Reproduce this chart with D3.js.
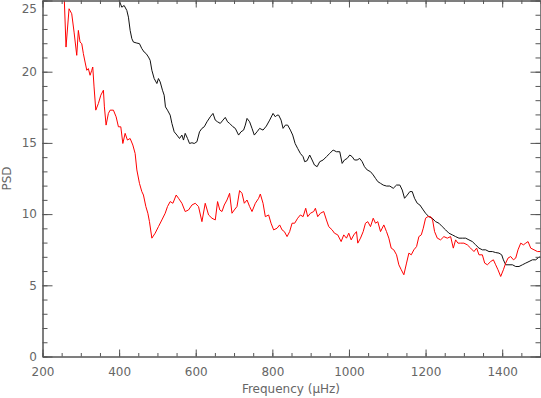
<!DOCTYPE html>
<html><head><meta charset="utf-8">
<script src="https://cdn.jsdelivr.net/npm/d3@7/dist/d3.min.js"></script>
<style>
html,body{margin:0;padding:0;background:#fff;}
svg{display:block;}
.axis text{font-family:"DejaVu Sans",sans-serif;font-size:12px;fill:#666;}
.axis line,.axis path{stroke:#555;stroke-width:1;}
</style></head><body>
<svg id="chart" width="541" height="398"></svg>
<script>
const xTickValues = [200,400,600,800,1000,1200,1400];
const yTickValues = [0,5,10,15,20,25];
const xLabel = "Frequency (\u03BCHz)";
const yLabel = "PSD";

const redFreq = [245,257,261.4,269.3,276.3,282.4,289.4,293.6,298,302.5,
306.7,311.1,315.6,319.7,324.2,328.6,331.2,334.6,339.1,345.9,
352.2,359,361.6,366,372,376.5,385.1,392.2,398.2,404.4,
409.7,415.7,421.7,428.8,435.8,441.8,446.3,453.1,459.3,463.5,
469.8,475,479.2,485.5,494.1,502.7,511.6,520.3,526.3,533.3,
540.4,549,555.1,563.9,572.5,581.2,590.1,598.7,607.3,616.2,
624.8,633.5,642.4,651,657,662.8,668.5,674.5,681.6,688.4,
694.6,700.6,707.7,714.5,720.8,726.8,733.9,740.7,746.9,755.6,
764.2,768.6,775.7,781.7,790.3,796.6,803.4,812.3,819.1,825.4,
831.4,838.4,845.2,851.5,858.3,866.1,873.2,880.3,887.1,892.3,
899.4,908,912.4,918.4,925.5,934.1,941.2,947.2,956.1,962.1,
970.7,979.6,986.4,993.5,999.5,1005.8,1012.6,1019.6,1023,1030.1,
1037.1,1043.1,1049.1,1056.2,1063.3,1069.3,1075.3,1082.4,1091,1098,
1104.1,1110.3,1117,1124.2,1130.2,1136.5,1143.3,1150.3,1156.4,1162.6,
1169.4,1176.5,1182.5,1188.8,1194,1200,1206,1213.1,1218.3,1223.5,
1230.6,1239.2,1247.8,1256.7,1265.4,1272.4,1278.4,1284.5,1291.5,1300.1,
1309,1317.6,1326.3,1333.3,1339.4,1348.2,1354.3,1361.3,1370,1377,
1383,1389,1396.1,1403.1,1409.2,1415.2,1422.2,1429.3,1435.3,1441.3,
1448.4,1455.4,1461.5,1467.5,1474.5,1483.2,1492,1502.5];

const redPsd = [26.5,25.0,21.73,24.42,24.07,22.78,21.15,22.90,22.08,21.97,
21.27,20.68,20.10,20.22,19.75,20.10,20.33,18.93,17.30,17.77,
18.35,18.70,17.53,16.25,17.07,17.30,17.30,16.83,16.13,16.13,
14.96,15.67,15.20,15.31,14.85,14.26,13.10,12.16,11.58,11.34,
10.53,10.06,9.47,8.31,8.66,9.12,9.59,10.06,10.53,10.88,
10.76,11.34,11.11,10.76,10.18,10.29,10.64,10.76,10.53,9.47,
10.76,9.94,9.71,9.59,10.88,10.29,10.18,10.64,10.99,11.46,
10.06,10.29,10.53,11.65,11.46,10.76,10.99,10.53,10.18,10.76,
11.11,11.41,10.76,9.82,9.94,9.36,8.89,9.01,9.24,8.89,
8.77,8.42,8.77,9.36,9.36,9.71,9.94,9.82,10.41,9.82,
10.06,10.18,10.41,9.82,10.06,10.18,9.59,9.12,8.89,8.66,
8.54,8.07,8.54,8.31,8.66,8.19,8.54,8.77,7.96,8.31,
8.77,9.36,9.47,9.12,9.71,9.36,9.47,8.77,9.24,8.77,
8.31,7.61,7.49,7.14,6.44,6.09,5.74,6.56,7.26,7.14,
7.49,7.72,8.42,8.54,9.01,9.71,9.82,9.82,9.59,8.77,
8.31,8.19,8.42,8.31,8.42,7.61,8.19,7.96,7.96,7.96,
7.84,7.61,7.37,7.61,7.14,7.14,6.56,6.44,6.67,6.79,
6.44,6.09,5.62,6.09,6.56,6.91,7.02,6.79,6.91,7.49,
7.96,7.84,7.96,8.07,7.61,7.49,7.37,7.37];

const blackFreq = [392,400,407.1,413.1,420.1,424.3,428.8,433.2,437.4,446.3,
453.1,459.3,465.4,470.6,476.6,481,485.5,491.5,498.6,502.7,
507.2,513.2,517.6,521,526.3,533.3,537.8,543.8,550.9,557.6,
563.9,568.1,572.5,578.6,583.8,590.1,596.1,603.1,609.9,616.2,
622.2,629.3,637.9,645,651,657,664.1,671.1,677.1,683.1,
688.4,697.3,703.3,711.9,718.2,725,729.4,733.9,740.7,746.9,
752.9,760,766.8,775.7,784.3,793,801.8,807.9,812.3,816.5,
822.8,828,834,840,847.1,853.1,859.4,866.1,873.2,880.3,
884.4,890.7,897.5,903.8,909.8,916.9,923.7,932.6,941.2,949.8,
958.7,967.3,976,982.2,988.2,995.3,1002.1,1008.4,1014.4,1021.4,
1028.2,1034.5,1040.5,1047.6,1056.2,1063.3,1069.3,1075.3,1082.4,1089.4,
1098,1106.7,1115.6,1124.2,1132.8,1139.1,1145.1,1152.2,1158.9,1165.2,
1171.2,1178.3,1185.1,1194,1200,1208.6,1217.5,1226.1,1234.8,1243.6,
1252.3,1260.9,1269.8,1278.4,1287.1,1296,1304.6,1313.2,1322.1,1330.7,
1339.4,1348.2,1356.9,1365.5,1374.4,1383,1391.6,1398.7,1403.1,1409.2,
1417.8,1426.7,1435.3,1443.9,1452.8,1461.5,1470.1,1478.9,1487.6,1496.2,
1502.5];

const blackPsd = [26.0,25.0,24.53,24.65,24.30,23.83,22.90,22.32,22.08,22.01,
21.97,21.62,21.38,21.27,21.03,20.80,20.10,19.52,19.17,19.52,
19.28,18.70,18.35,17.53,17.30,16.95,16.37,15.78,15.55,15.31,
15.55,15.20,15.67,15.31,14.96,15.01,14.96,15.08,15.78,16.02,
16.13,16.48,16.83,17.07,16.60,16.48,16.37,16.60,16.79,16.48,
16.37,16.13,16.02,15.55,15.78,15.90,16.25,16.72,16.48,16.02,
15.55,15.78,16.02,15.90,16.18,16.60,17.07,16.83,16.95,16.95,
16.60,16.02,16.25,16.25,15.90,15.55,14.96,14.61,14.26,14.03,
13.68,13.75,14.15,13.80,13.45,13.33,13.68,13.80,14.03,14.26,
14.50,14.38,14.38,13.56,13.80,13.91,14.15,14.03,13.80,13.80,
13.91,13.68,13.33,13.10,12.98,12.75,12.51,12.28,12.16,12.04,
11.97,11.97,11.81,12.04,12.04,11.69,11.11,11.34,11.58,11.58,
11.11,10.76,10.64,10.29,10.06,9.82,9.71,9.47,9.36,9.12,
8.89,8.66,8.54,8.42,8.31,8.31,8.31,8.19,8.07,7.84,
7.61,7.49,7.49,7.37,7.37,7.30,7.26,7.14,6.79,6.44,
6.44,6.44,6.32,6.32,6.44,6.56,6.67,6.79,6.79,6.98,
6.98];

const L = 42.5, R = 540.5, T = 0.5, B = 356.5;
const svg = d3.select("#chart");
const x = d3.scaleLinear().domain([200,1500]).range([L,R]);
const y = d3.scaleLinear().domain([0,25]).range([B,T]);

svg.append("defs").append("clipPath").attr("id","clip")
  .append("rect").attr("x",L).attr("y",T).attr("width",R-L).attr("height",B-T);

const line = d3.line().x(d=>x(d[0])).y(d=>y(d[1]));
const g = svg.append("g").attr("clip-path","url(#clip)");
g.append("path").datum(d3.zip(blackFreq,blackPsd))
  .attr("d",line).attr("fill","none").attr("stroke","#111").attr("stroke-width",1);
g.append("path").datum(d3.zip(redFreq,redPsd))
  .attr("d",line).attr("fill","none").attr("stroke","#ff0000").attr("stroke-width",1);

const xMinor = d3.range(200,1501,50);
const yMinor = d3.range(0,26,1);

// bottom
svg.append("g").attr("class","axis").attr("transform",`translate(0,${B})`)
  .call(d3.axisBottom(x).tickValues(xMinor).tickSize(-3.5).tickSizeOuter(0).tickFormat(""));
svg.append("g").attr("class","axis").attr("transform",`translate(0,${B})`)
  .call(d3.axisBottom(x).tickValues(xTickValues).tickSize(-7).tickSizeOuter(0).tickPadding(11).tickFormat(d3.format("d")));
// top
svg.append("g").attr("class","axis").attr("transform",`translate(0,${T})`)
  .call(d3.axisTop(x).tickValues(xMinor).tickSize(-3.5).tickSizeOuter(0).tickFormat(""));
svg.append("g").attr("class","axis").attr("transform",`translate(0,${T})`)
  .call(d3.axisTop(x).tickValues(xTickValues).tickSize(-7).tickSizeOuter(0).tickFormat(""));
// left
svg.append("g").attr("class","axis").attr("transform",`translate(${L},0)`)
  .call(d3.axisLeft(y).tickValues(yMinor).tickSize(-5).tickSizeOuter(0).tickFormat(""));
const yAx = svg.append("g").attr("class","axis").attr("transform",`translate(${L},0)`)
  .call(d3.axisLeft(y).tickValues(yTickValues).tickSize(-10).tickSizeOuter(0).tickPadding(5.5).tickFormat(d3.format("d")));
// keep the top label ("25") inside the picture
yAx.selectAll(".tick text").filter(d => d === 25).attr("dy", 0).attr("y", 11.5);
// right
svg.append("g").attr("class","axis").attr("transform",`translate(${R},0)`)
  .call(d3.axisRight(y).tickValues(yMinor).tickSize(-5).tickSizeOuter(0).tickFormat(""));
svg.append("g").attr("class","axis").attr("transform",`translate(${R},0)`)
  .call(d3.axisRight(y).tickValues(yTickValues).tickSize(-10).tickSizeOuter(0).tickFormat(""));

svg.append("text").attr("x",291).attr("y",393).attr("text-anchor","middle")
  .attr("font-family","DejaVu Sans, sans-serif").attr("font-size",12).attr("fill","#666")
  .text(xLabel);
svg.append("text").attr("transform","translate(11,178.5) rotate(-90)").attr("text-anchor","middle")
  .attr("font-family","DejaVu Sans, sans-serif").attr("font-size",12).attr("fill","#666")
  .text(yLabel);
</script>
</body></html>
